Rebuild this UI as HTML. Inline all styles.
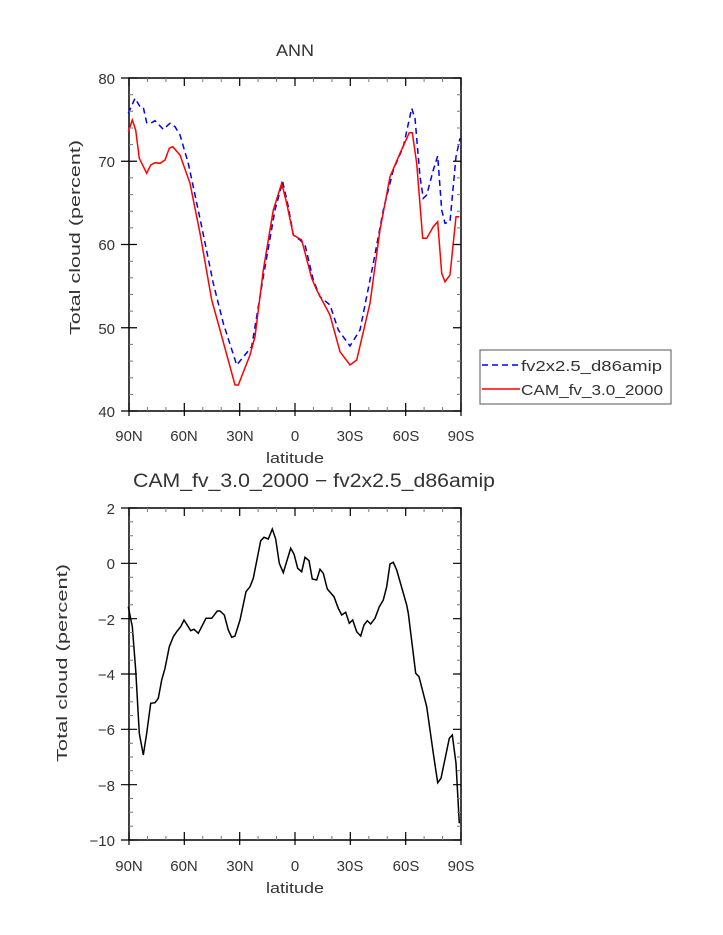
<!DOCTYPE html>
<html><head><meta charset="utf-8"><style>body{margin:0;background:#fff}svg{display:block}text{font-family:"Liberation Sans",sans-serif;fill:#333}</style></head><body>
<svg width="723" height="935" xmlns="http://www.w3.org/2000/svg">
<text x="276" y="56" font-size="17" textLength="38" lengthAdjust="spacingAndGlyphs">ANN</text>
<text x="133" y="487" font-size="19" textLength="362" lengthAdjust="spacingAndGlyphs">CAM_fv_3.0_2000 − fv2x2.5_d86amip</text>
<rect x="129" y="78" width="332" height="333" fill="none" stroke="#000" stroke-width="1.5"/>
<rect x="129" y="508" width="332" height="332" fill="none" stroke="#000" stroke-width="1.5"/>
<g font-size="15" text-anchor="end">
<text x="115" y="84">80</text><text x="115" y="167">70</text><text x="115" y="250">60</text><text x="115" y="334">50</text><text x="115" y="417">40</text>
<text x="115" y="514">2</text><text x="115" y="569">0</text><text x="115" y="625">−2</text><text x="115" y="680">−4</text><text x="115" y="735">−6</text><text x="115" y="791">−8</text><text x="115" y="846">−10</text>
</g>
<g font-size="15" text-anchor="middle">
<text x="129" y="441">90N</text><text x="184" y="441">60N</text><text x="240" y="441">30N</text><text x="295" y="441">0</text><text x="350" y="441">30S</text><text x="406" y="441">60S</text><text x="461" y="441">90S</text>
<text x="129" y="871">90N</text><text x="184" y="871">60N</text><text x="240" y="871">30N</text><text x="295" y="871">0</text><text x="350" y="871">30S</text><text x="406" y="871">60S</text><text x="461" y="871">90S</text>
</g>
<text x="266" y="463" font-size="15" textLength="58" lengthAdjust="spacingAndGlyphs">latitude</text>
<text x="266" y="893" font-size="15" textLength="58" lengthAdjust="spacingAndGlyphs">latitude</text>
<text transform="translate(80,335) rotate(-90)" font-size="15" textLength="195" lengthAdjust="spacingAndGlyphs">Total cloud (percent)</text>
<text transform="translate(67,762) rotate(-90)" font-size="15" textLength="198" lengthAdjust="spacingAndGlyphs">Total cloud (percent)</text>
<polyline fill="none" stroke="#00f" stroke-width="1.5" stroke-dasharray="6,4" points="128.3,113.3 135,98.3 140,106.7 143.3,107.3 146.7,122.7 150.7,123.3 155,120.7 163.3,129.3 170,123.3 175,126.7 180,135 188.3,163.3 201.7,226.7 213.3,283.3 223.3,323.3 236.7,365 251.7,346.7 263.3,276.7 275,210 282.7,181.7 288.3,206.7 293.3,235 300,240 305,245 313.3,280 320,296.7 330,305 338.3,330 350,346 360,330 373.3,263.3 383.3,210 393.3,170 403.3,146.7 411.7,108.3 415,118.3 420,176.7 423.3,198.3 426.7,195 433.3,170 437.7,156 441.7,210 445,223.3 450,221.7 456,156.7 460,138.3"/>
<polyline fill="none" stroke="#f00" stroke-width="1.5" points="128.3,131.7 132.3,120 135.7,130 139.3,158.3 146.7,173.3 150.7,165 155,162.7 160,163.3 165,160 169.3,148.3 172.7,146.7 180,155 190,183.3 200,233.3 211.7,300 220,330 235,385 238.3,385 250,355 255,336.7 263.3,270 273.3,210 281.7,183.3 286.7,203.3 293.3,235 301.7,240 311.7,278.3 316.7,290 330,315 340,351.7 350,365 356.7,360 370,303.3 380,230 390,176.7 400,153.3 409.3,132.7 412.3,132.7 416.7,163.3 422.7,238.3 426.7,238.3 433.3,226.7 437.7,221.7 441.7,273.3 445,281.7 450,275 456,216.7 459.3,216.7"/>
<polyline fill="none" stroke="#000" stroke-width="1.5" points="128.3,606.7 132.3,626.7 135.7,670 139.3,733.3 143.3,755 146.7,733.3 150.7,703.3 155,702.7 158.3,698.3 161.7,680 165,668.3 169.3,646.7 173.3,636.7 176.7,631.7 180.7,626.7 184,620 190.7,630.7 194,629.3 198.3,633.3 206,618.3 211.7,618.3 217.3,611 220,611 224.3,615 228.3,630 231.7,637.3 235,636 240,620 246,591.7 250,586.7 253.3,578.3 260.7,540.7 264,537.3 268.3,539 272.3,529 275.7,539 279.3,563.3 283.3,572.7 290.7,548.3 294,554 297.7,568.3 301.7,571.7 305,557.3 309,560.7 312.3,579 316.7,580 320,569.3 323.3,573.3 327.3,589 334,596.7 338.3,608.3 341.7,615 345.7,612.3 349.3,623.3 352.7,620 356.7,631.7 360.7,636 364,625 367.3,620.7 370.7,624 375,618.3 379.3,606.7 383.3,600 386.7,586.7 390,564 393.3,562.3 396.7,570 406.7,605 408.3,613.3 415.7,673.3 419,676.7 426.7,706.7 433.3,753.3 437.7,782.7 441,778.3 449.3,738.3 452.3,735 456,763.3 459.3,823.3"/>
<rect x="480" y="350" width="191" height="54" fill="none" stroke="#555" stroke-width="1"/>
<line x1="482" y1="365" x2="520" y2="365" stroke="#00f" stroke-width="1.5" stroke-dasharray="6,4"/>
<line x1="482" y1="389" x2="520" y2="389" stroke="#f00" stroke-width="1.5"/>
<text x="521" y="371" font-size="15" textLength="141" lengthAdjust="spacingAndGlyphs">fv2x2.5_d86amip</text>
<text x="521" y="395" font-size="15" textLength="142" lengthAdjust="spacingAndGlyphs">CAM_fv_3.0_2000</text>
<path stroke="#000" stroke-width="1.2" fill="none" d="
M129,78v8M184.3,78v8M239.7,78v8M295,78v8M350.3,78v8M405.7,78v8M461,78v8
M129,411v-8M184.3,411v-8M239.7,411v-8M295,411v-8M350.3,411v-8M405.7,411v-8M461,411v-8
M129,411v5M184.3,411v5M239.7,411v5M295,411v5M350.3,411v5M405.7,411v5M461,411v5
M129,508v8M184.3,508v8M239.7,508v8M295,508v8M350.3,508v8M405.7,508v8M461,508v8
M129,840v-8M184.3,840v-8M239.7,840v-8M295,840v-8M350.3,840v-8M405.7,840v-8M461,840v-8
M129,840v5M184.3,840v5M239.7,840v5M295,840v5M350.3,840v5M405.7,840v5M461,840v5
M121,78h16M121,161.25h16M121,244.5h16M121,327.75h16M121,411h16
M461,78h-8M461,161.25h-8M461,244.5h-8M461,327.75h-8M461,411h-8
M121,508h16M121,563.3h16M121,618.7h16M121,674h16M121,729.3h16M121,784.7h16M121,840h16
M461,508h-8M461,563.3h-8M461,618.7h-8M461,674h-8M461,729.3h-8M461,784.7h-8M461,840h-8"/>
<path stroke="#777" stroke-width="1" fill="none" d="
M147.4,78v4M165.9,78v4M202.8,78v4M221.2,78v4M258.1,78v4M276.6,78v4M313.4,78v4M331.9,78v4M368.8,78v4M387.2,78v4M424.1,78v4M442.6,78v4
M147.4,411v-4M165.9,411v-4M202.8,411v-4M221.2,411v-4M258.1,411v-4M276.6,411v-4M313.4,411v-4M331.9,411v-4M368.8,411v-4M387.2,411v-4M424.1,411v-4M442.6,411v-4
M147.4,508v4M165.9,508v4M202.8,508v4M221.2,508v4M258.1,508v4M276.6,508v4M313.4,508v4M331.9,508v4M368.8,508v4M387.2,508v4M424.1,508v4M442.6,508v4
M147.4,840v-4M165.9,840v-4M202.8,840v-4M221.2,840v-4M258.1,840v-4M276.6,840v-4M313.4,840v-4M331.9,840v-4M368.8,840v-4M387.2,840v-4M424.1,840v-4M442.6,840v-4
M129,94.7h4M129,111.3h4M129,128h4M129,144.6h4M129,177.9h4M129,194.6h4M129,211.2h4M129,227.9h4M129,261.2h4M129,277.8h4M129,294.5h4M129,311.1h4M129,344.4h4M129,361.1h4M129,377.7h4M129,394.4h4
M461,94.7h-4M461,111.3h-4M461,128h-4M461,144.6h-4M461,177.9h-4M461,194.6h-4M461,211.2h-4M461,227.9h-4M461,261.2h-4M461,277.8h-4M461,294.5h-4M461,311.1h-4M461,344.4h-4M461,361.1h-4M461,377.7h-4M461,394.4h-4
M129,521.8h4M129,535.7h4M129,549.5h4M129,577.2h4M129,591h4M129,604.8h4M129,632.5h4M129,646.3h4M129,660.2h4M129,687.8h4M129,701.7h4M129,715.5h4M129,743.2h4M129,757h4M129,770.8h4M129,798.5h4M129,812.3h4M129,826.2h4
M461,521.8h-4M461,535.7h-4M461,549.5h-4M461,577.2h-4M461,591h-4M461,604.8h-4M461,632.5h-4M461,646.3h-4M461,660.2h-4M461,687.8h-4M461,701.7h-4M461,715.5h-4M461,743.2h-4M461,757h-4M461,770.8h-4M461,798.5h-4M461,812.3h-4M461,826.2h-4"/>
</svg>
</body></html>
